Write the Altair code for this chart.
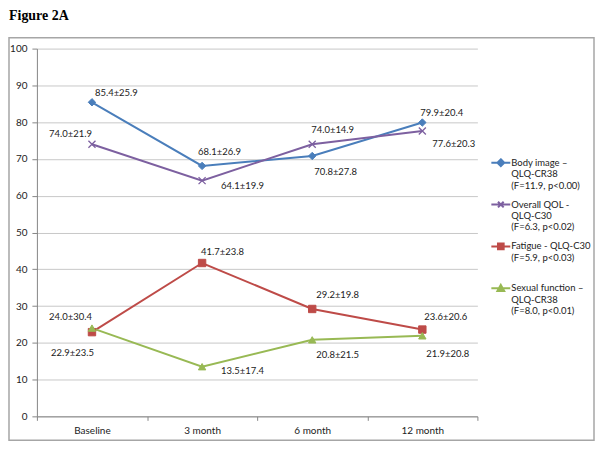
import altair as alt
import pandas as pd

timepoints = ["Baseline", "3 month", "6 month", "12 month"]
series_labels = [
    "Body image –|QLQ-CR38|(F=11.9, p<0.00)",
    "Overall QOL -|QLQ-C30|(F=6.3, p<0.02)",
    "Fatigue - QLQ-C30|(F=5.9, p<0.03)| ",
    "Sexual function –|QLQ-CR38|(F=8.0, p<0.01)",
]
body_mean = [85.4, 68.1, 70.8, 79.9]
body_sd = [25.9, 26.9, 27.8, 20.4]
qol_mean = [74.0, 64.1, 74.0, 77.6]
qol_sd = [21.9, 19.9, 14.9, 20.3]
fatigue_mean = [22.9, 41.7, 29.2, 23.6]
fatigue_sd = [23.5, 23.8, 19.8, 20.6]
sexual_mean = [24.0, 13.5, 20.8, 21.9]
sexual_sd = [30.4, 17.4, 21.5, 20.8]

colors = ["#4A7EBB", "#7D60A0", "#BE4B48", "#98B954"]
marker_shapes = ["diamond", "M-1,-1L1,1M-1,1L1,-1", "square", "triangle-up"]
legend_paths = [
    "M-1,0L1,0M0,-0.36L0.36,0L0,0.36L-0.36,0Z",
    "M-1,0L1,0M-0.3,-0.3L0.3,0.3M-0.3,0.3L0.3,-0.3",
    "M-1,0L1,0M-0.3,-0.3L0.3,-0.3L0.3,0.3L-0.3,0.3Z",
    "M-1,0L1,0M0,-0.36L0.36,0.3L-0.36,0.3Z",
]
# label placement (dx, dy, align) per series per timepoint
label_style = [
    [(3, -9, "left"), (-4, -14, "left"), (2, 16, "left"), (-2, -10, "left")],
    [(0, -10, "right"), (19, 5, "left"), (-1, -14, "left"), (10, 13, "left")],
    [(2, 21, "right"), (-1, -11, "left"), (4, -14, "left"), (2, -13, "left")],
    [(0, -11, "right"), (19, 4, "left"), (4, 15, "left"), (4, 18, "left")],
]

means = [body_mean, qol_mean, fatigue_mean, sexual_mean]
sds = [body_sd, qol_sd, fatigue_sd, sexual_sd]

rows = []
for si, s in enumerate(series_labels):
    for ti, t in enumerate(timepoints):
        rows.append({"series": s, "sid": si, "time": t, "tid": ti,
                     "mean": means[si][ti],
                     "label": f"{means[si][ti]:.1f}±{sds[si][ti]:.1f}"})
df = pd.DataFrame(rows)

FONT = "Lato"
W, H = 442, 369

x_enc = alt.X("time:N", sort=timepoints,
              scale=alt.Scale(type="band", paddingInner=0, paddingOuter=0),
              axis=alt.Axis(title=None, labelAngle=0, tickBand="extent", tickSize=4,
                            labelPadding=5, domainColor="#868686", tickColor="#868686",
                            labelFont=FONT, labelFontSize=10, labelColor="#222222", grid=False))
y_enc = alt.Y("mean:Q", scale=alt.Scale(domain=[0, 100], nice=False),
              axis=alt.Axis(title=None, values=list(range(0, 101, 10)), grid=True,
                            gridColor="#c8c8c8", domainColor="#868686", tickColor="#868686",
                            tickSize=5, labelPadding=5, labelFont=FONT, labelFontSize=10,
                            labelColor="#222222", labelOverlap=False))

leg = alt.Legend(title=None, orient="none", legendX=455, legendY=104,
                 labelExpr="split(datum.label, '|')", symbolSize=361, symbolStrokeWidth=2,
                 symbolOpacity=1,
                 labelFont=FONT, labelFontSize=9.5, labelColor="#222222", labelLimit=0,
                 rowPadding=4, labelOffset=0)
color_scale = alt.Scale(domain=series_labels, range=colors)

base = alt.Chart(df)

lines = base.mark_line(strokeWidth=2).encode(
    x=x_enc, y=y_enc,
    color=alt.Color("series:N", scale=color_scale, legend=leg),
    order="tid:Q",
)

layers = [lines]
for si in range(4):
    if si == 1:
        mk = base.transform_filter(f"datum.sid == {si}").mark_point(
            shape=marker_shapes[si], filled=False, stroke=colors[si], strokeWidth=1.3, size=50, opacity=1)
    else:
        mk = base.transform_filter(f"datum.sid == {si}").mark_point(
            shape=marker_shapes[si], filled=True, fill=colors[si], stroke=colors[si],
            strokeWidth=1, size=55, opacity=1)
    layers.append(mk.encode(x=x_enc, y=y_enc))

for si in range(4):
    for ti in range(4):
        dx, dy, al = label_style[si][ti]
        layers.append(
            base.transform_filter(f"datum.sid == {si} && datum.tid == {ti}")
            .mark_text(dx=dx, dy=dy, align=al, baseline="middle", font=FONT,
                       fontSize=9.5, color="#222222")
            .encode(x=x_enc, y=y_enc, text="label:N")
        )

legend_layer = base.transform_filter("false").mark_point(filled=True, opacity=1).encode(
    x=x_enc, y=y_enc,
    fill=alt.Fill("series:N", scale=color_scale, legend=leg),
    stroke=alt.Stroke("series:N", scale=color_scale, legend=leg),
    shape=alt.Shape("series:N", scale=alt.Scale(domain=series_labels, range=legend_paths), legend=leg),
)
layers.append(legend_layer)

one = pd.DataFrame({"a": [0]})
frame = alt.Chart(one).mark_rect(fill="transparent", stroke="#a6a6a6", strokeWidth=1.5).encode(
    x=alt.value(-28), x2=alt.value(559), y=alt.value(-11), y2=alt.value(393))
title = alt.Chart(one).mark_text(text="Figure 2A", font="Liberation Serif", fontWeight="bold",
                                 fontSize=14, align="left", baseline="alphabetic",
                                 color="#000000").encode(x=alt.value(-28), y=alt.value(-29))

chart = alt.layer(frame, title, *layers).properties(
    width=W, height=H,
    padding={"left": 29, "top": 40, "right": 118, "bottom": 26},
    autosize=alt.AutoSizeParams(type="none"),
    background="white",
).configure_view(stroke=None)

chart.save("out.html", embed_options={"renderer": "svg", "actions": False})
